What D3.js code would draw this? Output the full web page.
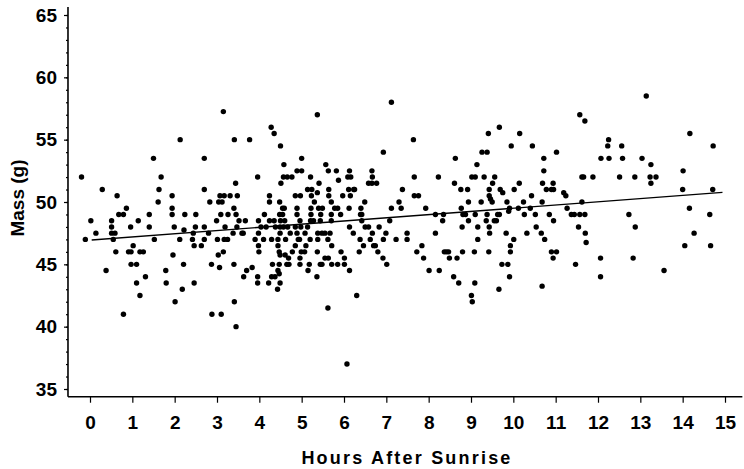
<!DOCTYPE html>
<html>
<head>
<meta charset="utf-8">
<script src="https://cdn.jsdelivr.net/npm/d3@7"></script>
<style>
body { margin:0; background:#fff; }
.tick text { font-family:"Liberation Sans", Arial, sans-serif; font-weight:bold; font-size:19px; fill:#000; }
.label { font-family:"Liberation Sans", Arial, sans-serif; font-weight:bold; font-size:18px; fill:#000; }
</style>
</head>
<body>
<div id="scatter"><svg></svg></div>
<script>
// [hours after sunrise, mass in g]
var weighings = [
[3.15,57.25],[2.13,55],[3.41,55],[3.77,55],[1.50,53.5],[2.70,53.5],[-0.2,52],[1.68,52],[3.44,51.5],[3.96,52],
[0.29,51],[1.63,51],[2.70,51],[0.64,50.5],[1.94,50.5],[3.07,50.5],[3.17,50.5],[3.31,50.5],[3.48,50.5],
[1.61,50],[2.83,50],[3.04,50],[3.12,50],[0.86,49.5],[1.94,49.5],[3.40,49.5],
[0.68,49],[0.79,49],[1.40,49],[1.94,49],[2.24,49],[2.50,49],[3.09,49],[3.26,49],[3.45,49],
[0.02,48.5],[0.51,48.5],[1.14,48.5],[2.99,48.5],[3.52,48.5],[3.67,48.5],
[0.51,48],[0.96,48],[1.40,48],[1.99,48],[2.49,48],[2.70,48],[3.19,48],[3.47,48],
[0.14,47.5],[0.51,47.5],[0.59,47.5],[2.22,47.75],[2.44,47.5],[2.80,47.5],[3.38,47.5],[3.59,47.5],[3.62,47.5],
[-0.11,47],[0.55,47],[1.52,47],[2.12,47],[2.42,47],[2.70,47],[3.01,47],[3.17,47],[3.25,47],
[1.02,46.5],[2.46,46.5],[2.63,46.5],
[0.61,46],[0.91,46],[0.97,46],[1.18,46],[1.26,46],[3.15,46],[1.96,45.75],[3.03,45.75],
[0.97,45],[1.10,45],[2.21,45],[2.87,45],[3.40,45],[3.06,44.75],[3.83,44.75],
[0.38,44.5],[1.79,44.5],[3.70,44.5],[1.31,44],[3.63,44],[3.96,44],
[1.10,43.5],[1.80,43.5],[2.46,43.5],[3.96,43.5],[2.18,43],[1.18,42.5],[2.01,42],[3.41,42],
[0.79,41],[2.88,41],[3.10,41],[3.45,40],

[5.37,57],[7.12,58],[4.28,56],[4.35,55.5],[4.50,54.5],[7.64,55],[6.93,54],[5.00,53.5],[4.58,53],[5.57,53],
[4.89,52.5],[5.00,52.5],[5.63,52.5],[5.82,52.5],[6.13,52.5],[6.66,52.5],
[4.57,52],[4.66,52],[4.77,52],[5.21,52],[5.87,51.75],[6.09,52],[6.16,52],[6.67,52],[7.66,52],[8.23,52],
[4.51,51.5],[5.41,51.5],[6.58,51.5],[6.66,51.5],[6.77,51.5],
[5.14,51],[5.24,51],[5.64,51],[6.11,51],[6.23,51],[6.25,51],[7.38,51],
[4.24,50.5],[4.85,50.5],[4.97,50.5],[5.23,50.5],[5.37,50.75],[5.64,50.5],[5.97,50.5],[6.15,50.5],[7.66,50.5],[7.76,50.5],
[4.24,50],[4.48,50],[5.30,50],[5.70,50],[6.49,50],[7.30,50],
[4.55,49.5],[4.59,49.5],[4.89,49.5],[5.22,49.5],[5.40,49.5],[5.49,49.5],[5.78,49.5],[5.85,49.5],[6.12,49.5],[6.40,49.5],[7.12,49.5],[7.35,49.5],[7.93,49.5],
[4.12,49],[4.48,49],[4.55,49],[4.89,49],[5.22,49],[5.45,49],[5.70,49],[5.92,49],[6.39,49],[6.42,49],[8.16,49],[8.35,49],
[3.98,48.5],[4.24,48.5],[4.35,48.5],[4.50,48.5],[4.60,48.5],[4.96,48.5],[5.21,48.5],[5.28,48.5],[5.44,48.5],[5.70,48.5],[6.42,48.5],[7.08,48.5],[8.33,48.5],
[4.04,48],[4.16,48],[4.38,48],[4.49,48],[4.57,48],[4.67,48],[4.85,48],[4.98,48],[5.14,48],[6.13,48],[6.50,48],[6.58,48],[6.83,48],
[3.98,47.5],[4.49,47.5],[4.73,47.5],[4.89,47.5],[5.08,47.5],[5.38,47.5],[5.48,47.5],[5.55,47.5],[5.67,47.5],[6.22,47.5],[6.67,47.5],[6.99,47.5],[7.49,47.5],[8.16,47.5],
[3.90,47],[4.10,47],[4.29,47],[4.44,47],[4.62,47],[4.92,47],[4.95,47],[5.20,47],[5.38,47],[5.62,47],[6.38,47],[6.62,47],[6.93,47],[7.23,47],[7.49,47],
[3.98,46.5],[4.44,46.5],[4.85,46.5],[5.10,46.5],[5.71,46.5],[6.46,46.5],[6.70,46.5],[6.74,46.5],[7.84,46.5],
[3.99,46],[4.47,46],[4.78,46],[4.99,46],[5.07,46],[5.37,46],[5.93,46],[6.36,46],[6.80,46],[7.72,46],[4.49,45.75],[4.61,45.75],
[4.69,45.5],[4.96,45.5],[5.55,45.5],[5.63,45.5],[6.01,45.5],[6.92,45.5],[7.88,45.5],
[4.31,45],[4.47,45],[4.65,45],[4.70,45],[4.96,45],[5.18,45],[5.44,45],[5.48,45],[5.71,45],[5.85,45],[6.01,45],[7.01,45],
[4.44,44.5],[5.15,44.5],[6.13,44.5],[8.01,44.5],[8.25,44.5],[4.47,44.25],[4.29,44],[4.37,44],[5.36,44],
[4.22,43.5],[4.49,43.5],[4.43,43],[6.30,42.5],[5.62,41.5],[6.07,37],

[11.57,57],[11.69,56.5],[9.67,56],[9.41,55.5],[10.15,55.5],[14.17,55.5],[13.14,58.5],[12.25,55],
[9.95,54.5],[10.45,54.5],[12.23,54.5],[12.56,54.5],[14.72,54.5],[9.26,54],[9.38,54],[11.02,54],
[8.63,53.5],[10.72,53.5],[12.07,53.5],[12.26,53.5],[12.58,53.5],[13.04,53.5],[9.14,53],[13.25,53],[10.72,52.5],[14.01,52.5],
[9.02,52],[9.10,52],[9.31,52],[9.56,52],[11.62,52],[11.66,52],[11.88,52],[12.51,52],[12.87,52],[13.23,52],[13.37,52],
[8.61,51.5],[9.51,51.5],[10.14,51.5],[10.69,51.5],[10.94,51.5],[13.25,51.5],
[8.76,51],[8.92,51],[9.43,51],[9.69,51],[10.02,51],[10.78,51],[10.90,51],[10.95,51],[14.00,51],[14.71,51],
[9.75,50.75],[11.19,50.75],[9.43,50.5],[10.43,50.5],[11.24,50.5],[9.46,50.25],
[8.94,50],[9.24,50],[9.50,50],[9.85,50],[10.24,50],[10.68,50],[11.62,50],
[8.77,49.5],[9.91,49.5],[10.12,49.5],[10.40,49.5],[11.27,49.5],[14.16,49.5],[9.89,49.25],
[8.81,49],[8.87,49],[9.10,49],[9.38,49],[9.63,49],[9.67,49],[10.26,49],[10.52,49],[10.85,49],[11.37,49],[11.44,49],[11.57,49],[11.69,49],[12.73,49],[14.64,49],
[8.94,48.5],[9.36,48.5],[9.55,48.5],[9.60,48.5],[10.95,48.5],
[8.79,48],[9.16,48],[9.43,48],[10.54,48],[11.54,48],[12.88,48],
[9.44,47.5],[9.83,47.5],[10.32,47.5],[10.66,47.5],[11.70,47.5],[14.27,47.5],
[9.16,47],[10.01,47],[10.74,47],[11.72,46.75],[9.93,46.5],[14.05,46.5],[14.66,46.5],
[8.37,46],[8.42,46],[8.47,46],[8.80,46],[9.08,46],[9.42,46],[9.93,46],[10.90,46],[11.02,46],
[8.49,45.5],[8.67,45.5],[10.94,45.5],[12.06,45.5],[12.83,45.5],[9.73,45],[9.87,45],[11.47,45],
[13.56,44.5],[8.59,44],[9.91,44],[12.06,44],[8.71,43.5],[9.09,43.5],[10.68,43.25],[9.66,43],[9.01,42.5],[9.03,42]
]

// fitted line end points as drawn
var fitHours = [0.04, 14.94]
var fitMass = [46.95, 50.77]

var hourTicks = d3.range(0, 16)
var massTicks = [35, 40, 45, 50, 55, 60, 65]
var massMinor = d3.range(35, 66)

var screen = {width:744, height:469}

var xScale = d3.scaleLinear()
    .domain([0, 15])
    .range([90, 725])

var yScale = d3.scaleLinear()
    .domain([35, 65])
    .range([389, 15])

var svg = d3.select("#scatter svg")
    .attr("width", screen.width)
    .attr("height", screen.height)

var axisX = xScale(-0.52)
var axisY = yScale(34.38)

svg.append("g")
    .attr("transform", "translate(" + axisX + ",0)")
    .call(d3.axisLeft(yScale).tickValues(massMinor).tickSize(2).tickFormat(""))
    .call(function(g) { g.select(".domain").remove() })

svg.append("g")
    .attr("transform", "translate(" + axisX + ",0)")
    .call(d3.axisLeft(yScale).tickValues(massTicks).tickSize(4).tickPadding(7))
    .call(function(g) { g.select(".domain").remove() })

svg.append("g")
    .attr("transform", "translate(0," + axisY + ")")
    .call(d3.axisBottom(xScale).tickValues(hourTicks).tickSize(6).tickPadding(13))
    .call(function(g) { g.select(".domain").remove() })

svg.selectAll(".tick line")
    .attr("stroke", "#000")
    .attr("stroke-width", 1.2)

svg.append("line")
    .attr("x1", axisX).attr("x2", axisX)
    .attr("y1", yScale(65.65)).attr("y2", axisY)
    .attr("stroke", "#000")
    .attr("stroke-width", 1.6)

svg.append("line")
    .attr("x1", axisX).attr("x2", xScale(15.41))
    .attr("y1", axisY).attr("y2", axisY)
    .attr("stroke", "#000")
    .attr("stroke-width", 1.6)

svg.append("g")
    .selectAll("circle")
    .data(weighings)
    .enter()
    .append("circle")
    .attr("cx", function(d) { return xScale(d[0]) })
    .attr("cy", function(d) { return yScale(d[1]) })
    .attr("r", 2.7)
    .attr("fill", "#000")

svg.append("path")
    .datum(d3.zip(fitHours, fitMass))
    .attr("d", d3.line()
        .x(function(d) { return xScale(d[0]) })
        .y(function(d) { return yScale(d[1]) }))
    .attr("fill", "none")
    .attr("stroke", "#000")
    .attr("stroke-width", 1.4)

svg.append("text")
    .text("Hours After Sunrise")
    .classed("label", true)
    .attr("text-anchor", "middle")
    .attr("letter-spacing", 2.2)
    .attr("x", 407)
    .attr("y", 464)

svg.append("text")
    .text("Mass (g)")
    .classed("label", true)
    .attr("text-anchor", "middle")
    .style("font-size", "19px")
    .attr("transform", "translate(24,198) rotate(-90)")
</script>
</body>
</html>
